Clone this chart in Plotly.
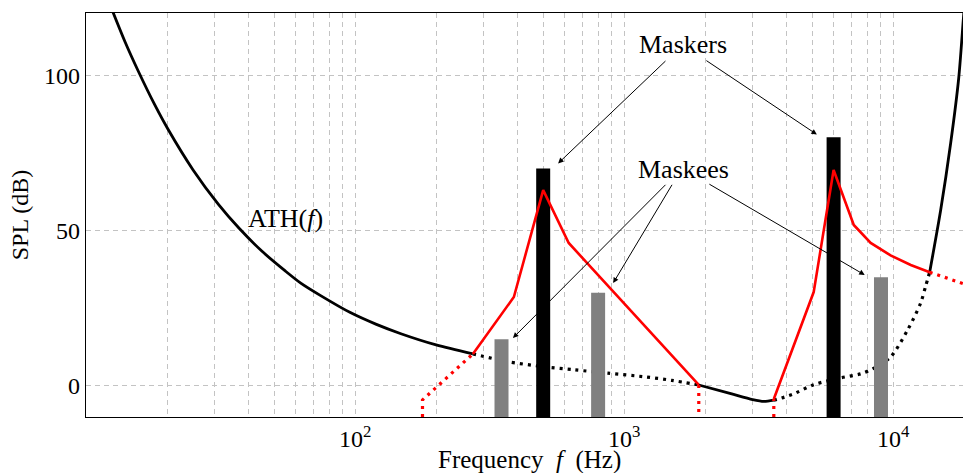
import numpy as np
import plotly.graph_objects as go

# ---------------- data ----------------
# Absolute threshold of hearing (Hz, dB SPL)
ath_freq = [12.5, 14, 15.6, 18, 20.2, 25, 31, 37, 45, 55, 63, 75, 96, 120, 148, 200,
            274, 370, 500, 650, 869, 1200, 1500, 1893, 2490, 3000, 3300, 3597, 4200,
            5060, 6380, 7570, 8380, 9770, 11300, 12640, 13180, 13650, 15000, 16330,
            17500, 18230, 18600]
ath_db = [121, 110.5, 101.5, 90.5, 82.5, 69.5, 58.5, 50.8, 43.4, 37, 33, 28.9, 23.6, 19.8, 16.8, 13.2,
          10.3, 7.8, 6.2, 5.2, 4.1, 2.9, 1.8, 0.3, -2.5, -4.4, -5.0, -4.6, -2.8,
          0.4, 2.6, 3.9, 5.5, 9.3, 18, 26.7, 32, 36.6, 56.6, 78,
          99, 118.6, 128]
# frequency bands where the ATH lies below the masking threshold (drawn dotted)
masked_bands = [(274, 1893), (3597, 13650)]

# masking threshold of masker 1 (500 Hz)
mask1_solid_freq = [274, 389, 500, 622, 1893]
mask1_solid_db = [10.3, 28.6, 63, 46, 0.3]
mask1_low_freq = [178, 178, 274]
mask1_low_db = [-10, -4.5, 10.3]
mask1_high_freq = [1893, 1893]
mask1_high_db = [0.3, -10]

# masking threshold of masker 2 (6 kHz)
mask2_low_freq = [3597, 3597]
mask2_low_db = [-10, -4.2]
mask2_solid_freq = [3597, 5060, 6000, 7130, 8240, 9770, 11610, 13650]
mask2_solid_db = [-4.2, 30.2, 69.5, 51.8, 46, 42, 38.9, 36.6]
mask2_high_freq = [13650, 18600]
mask2_high_db = [36.6, 32.6]

masker_freq = [500, 6000]
masker_db = [70, 80]
maskee_freq = [350, 800, 9000]
maskee_db = [15, 30, 35]

y_floor = -10
x_tickvals = [100, 1000, 10000]
x_ticktext = ["10<sup>2</sup>", "10<sup>3</sup>", "10<sup>4</sup>"]
x_minor = [m * 10 ** d for d in (1, 2, 3) for m in range(2, 10)]
y_tickvals = [0, 50, 100]

FONT = "Liberation Serif"
FS = 24
FS_LABEL = 26

# ---------------- helpers ----------------
def in_band(f):
    return any(lo < f < hi for lo, hi in masked_bands)

edges = {b for band in masked_bands for b in band}
ath_solid_x, ath_solid_y, ath_dot_x, ath_dot_y = [], [], [], []
for f, v in zip(ath_freq, ath_db):
    dotted = in_band(f)
    edge = f in edges
    ath_solid_x.append(f if (not dotted) else None)
    ath_solid_y.append(v if (not dotted) else None)
    ath_dot_x.append(f if (dotted or edge) else None)
    ath_dot_y.append(v if (dotted or edge) else None)

def bars(freqs, dbs):
    xs, ys = [], []
    for f, v in zip(freqs, dbs):
        xs += [f, f, None]
        ys += [y_floor, v, None]
    return xs, ys

fig = go.Figure()
DOT = "3px,5px"

fig.add_trace(go.Scatter(x=ath_dot_x, y=ath_dot_y, mode="lines", connectgaps=False,
                         line=dict(color="black", width=3.2, dash=DOT, shape="spline", smoothing=0.8),
                         hoverinfo="skip", showlegend=False))
fig.add_trace(go.Scatter(x=ath_solid_x, y=ath_solid_y, mode="lines", connectgaps=False,
                         line=dict(color="black", width=2.8, shape="spline", smoothing=0.8),
                         hoverinfo="skip", showlegend=False))

bx, by = bars(maskee_freq, maskee_db)
fig.add_trace(go.Scatter(x=bx, y=by, mode="lines", line=dict(color="rgb(128,128,128)", width=14),
                         hoverinfo="skip", showlegend=False))
bx, by = bars(masker_freq, masker_db)
fig.add_trace(go.Scatter(x=bx, y=by, mode="lines", line=dict(color="black", width=14),
                         hoverinfo="skip", showlegend=False))

RED = "rgb(255,0,0)"
for fx, fy in [(mask1_low_freq, mask1_low_db), (mask1_high_freq, mask1_high_db),
               (mask2_low_freq, mask2_low_db), (mask2_high_freq, mask2_high_db)]:
    fig.add_trace(go.Scatter(x=fx, y=fy, mode="lines", line=dict(color=RED, width=3.2, dash=DOT),
                             hoverinfo="skip", showlegend=False))
for fx, fy in [(mask1_solid_freq, mask1_solid_db), (mask2_solid_freq, mask2_solid_db)]:
    fig.add_trace(go.Scatter(x=fx, y=fy, mode="lines", line=dict(color=RED, width=2.6),
                             hoverinfo="skip", showlegend=False))

# ---------------- annotations ----------------
L = np.log10
annotations = [
    dict(x=L(1648), y=109.9, text="Maskers", showarrow=False),
    dict(x=L(1656), y=69.7, text="Maskees", showarrow=False),
    dict(x=L(55), y=54.0, text="ATH(<i>f</i>)", showarrow=False),
]
arrows = [
    ((1442, 105.0), (568, 71.6)),
    ((1995, 105.0), (5200, 80.9)),
    ((1442, 65.2), (386, 15.4)),
    ((1517, 65.2), (910, 33.1)),
    ((2046, 65.2), (7830, 35.7)),
]
for (tf, tv), (hf, hv) in arrows:
    annotations.append(dict(x=L(hf), y=hv, ax=L(tf), ay=tv, axref="x", ayref="y",
                            xref="x", yref="y", text="", showarrow=True,
                            arrowhead=2, arrowsize=1.1, arrowwidth=1, arrowcolor="black",
                            standoff=0, startstandoff=0))
for a in annotations:
    a.setdefault("xref", "x")
    a.setdefault("yref", "y")
    a["font"] = dict(family=FONT, size=FS_LABEL, color="black")

# x-axis title placed as an annotation below the tick labels
annotations.append(dict(x=L(444), y=0, xref="x", yref="paper", yanchor="top", yshift=-27,
                        text="Frequency&nbsp; <i>f</i>&nbsp; (Hz)", showarrow=False,
                        font=dict(family=FONT, size=25, color="black")))

GRID = "rgb(195,195,195)"
fig.update_layout(
    width=963, height=473,
    margin=dict(l=86, r=0, t=13, b=56),
    paper_bgcolor="white", plot_bgcolor="white",
    font=dict(family=FONT, size=FS, color="black"),
    annotations=annotations,
    xaxis=dict(type="log", range=[1, 4.259], tickvals=x_tickvals, ticktext=x_ticktext,
               showgrid=True, gridcolor=GRID, griddash="5px,4px", gridwidth=1,
               minor=dict(tickvals=x_minor, showgrid=True, gridcolor=GRID,
                          griddash="5px,4px", gridwidth=1, ticks=""),
               showline=True, linecolor="black", linewidth=1.2, mirror=True,
               ticks="", zeroline=False),
    yaxis=dict(range=[-10, 120], tickvals=y_tickvals, showgrid=True, gridcolor=GRID,
               griddash="5px,4px", gridwidth=1, showline=True, linecolor="black",
               linewidth=1.2, mirror=False, ticks="", zeroline=False,
               title=dict(text="SPL (dB)", standoff=8, font=dict(family=FONT, size=FS))),
)
fig.write_html("out.html")
